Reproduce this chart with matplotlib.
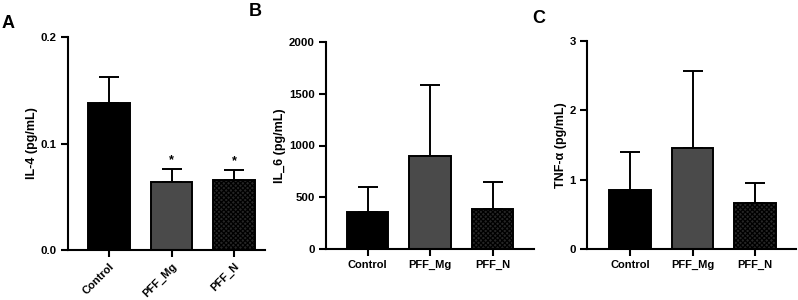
import matplotlib
matplotlib.use("Agg")
import matplotlib.pyplot as plt
import numpy as np

plt.rcParams['font.family'] = ['Liberation Sans', 'DejaVu Sans']
plt.rcParams['font.weight'] = 'bold'
plt.rcParams['hatch.linewidth'] = 0.9
plt.rcParams['hatch.color'] = '#6a6a6a'

categories = ["Control", "PFF_Mg", "PFF_N"]

il4_mean = [0.138, 0.064, 0.066]
il4_err = [0.024, 0.012, 0.009]
il6_mean = [357, 899, 388]
il6_err = [242, 686, 262]
tnf_mean = [0.85, 1.45, 0.66]
tnf_err = [0.55, 1.12, 0.29]

fig = plt.figure(figsize=(7.98, 3.0), dpi=100)

face = ['#000000', '#4a4a4a', '#262626']
hatches = [None, None, 'xxxxxxx']

def panel(rect, means, errs, ylim, yticks, yticklabels, ylabel, xlim, rot):
    ax = fig.add_axes(rect)
    x = np.arange(len(categories))
    for i in range(len(categories)):
        ax.bar(x[i], means[i], width=0.67, color=face[i], edgecolor='black',
               linewidth=1.4, hatch=hatches[i], zorder=2)
        ax.errorbar(x[i], means[i], yerr=[[0], [errs[i]]], fmt='none',
                    ecolor='black', elinewidth=1.4, capsize=7, capthick=1.4, zorder=1)
    ax.set_xlim(*xlim)
    ax.set_ylim(*ylim)
    ax.set_yticks(yticks)
    ax.set_yticklabels(yticklabels, fontsize=8.2, fontweight='bold')
    ax.set_xticks(x)
    if rot:
        ax.set_xticklabels(categories, fontsize=8, fontweight='bold', rotation=45,
                           ha='right', rotation_mode='anchor')
    else:
        ax.set_xticklabels(categories, fontsize=8, fontweight='bold')
    ax.set_ylabel(ylabel, fontsize=9, fontweight='bold', labelpad=2)
    for s in ['top', 'right']:
        ax.spines[s].set_visible(False)
    for s in ['left', 'bottom']:
        ax.spines[s].set_linewidth(1.5)
    ax.tick_params(axis='both', width=1.5, length=5, pad=3)
    ax.set_facecolor('none')
    return ax

axA = panel([68/798, 1-250/300, 197/798, 213/300], il4_mean, il4_err,
            (0, 0.2), [0, 0.1, 0.2], ['0.0', '0.1', '0.2'], 'IL-4 (pg/mL)',
            (-0.656, 2.496), True)
for i in [1, 2]:
    axA.text(i, il4_mean[i] + il4_err[i] + 0.003, '*', ha='center', va='bottom',
             fontsize=9, fontweight='bold')

axB = panel([326/798, 1-249/300, 208/798, 207/300], il6_mean, il6_err,
            (0, 2000), [0, 500, 1000, 1500, 2000], ['0', '500', '1000', '1500', '2000'],
            'IL_6 (pg/mL)', (-0.664, 2.664), False)

axC = panel([587/798, 1-249/300, 209/798, 208/300], tnf_mean, tnf_err,
            (0, 3), [0, 1, 2, 3], ['0', '1', '2', '3'],
            'TNF-α (pg/mL)', (-0.688, 2.656), False)

fig.text(2/798, 1-28/300, 'A', fontsize=13, fontweight='bold')
fig.text(249/798, 1-16/300, 'B', fontsize=13, fontweight='bold')
fig.text(532/798, 1-23/300, 'C', fontsize=13, fontweight='bold')

fig.savefig('out.png', dpi=100)
